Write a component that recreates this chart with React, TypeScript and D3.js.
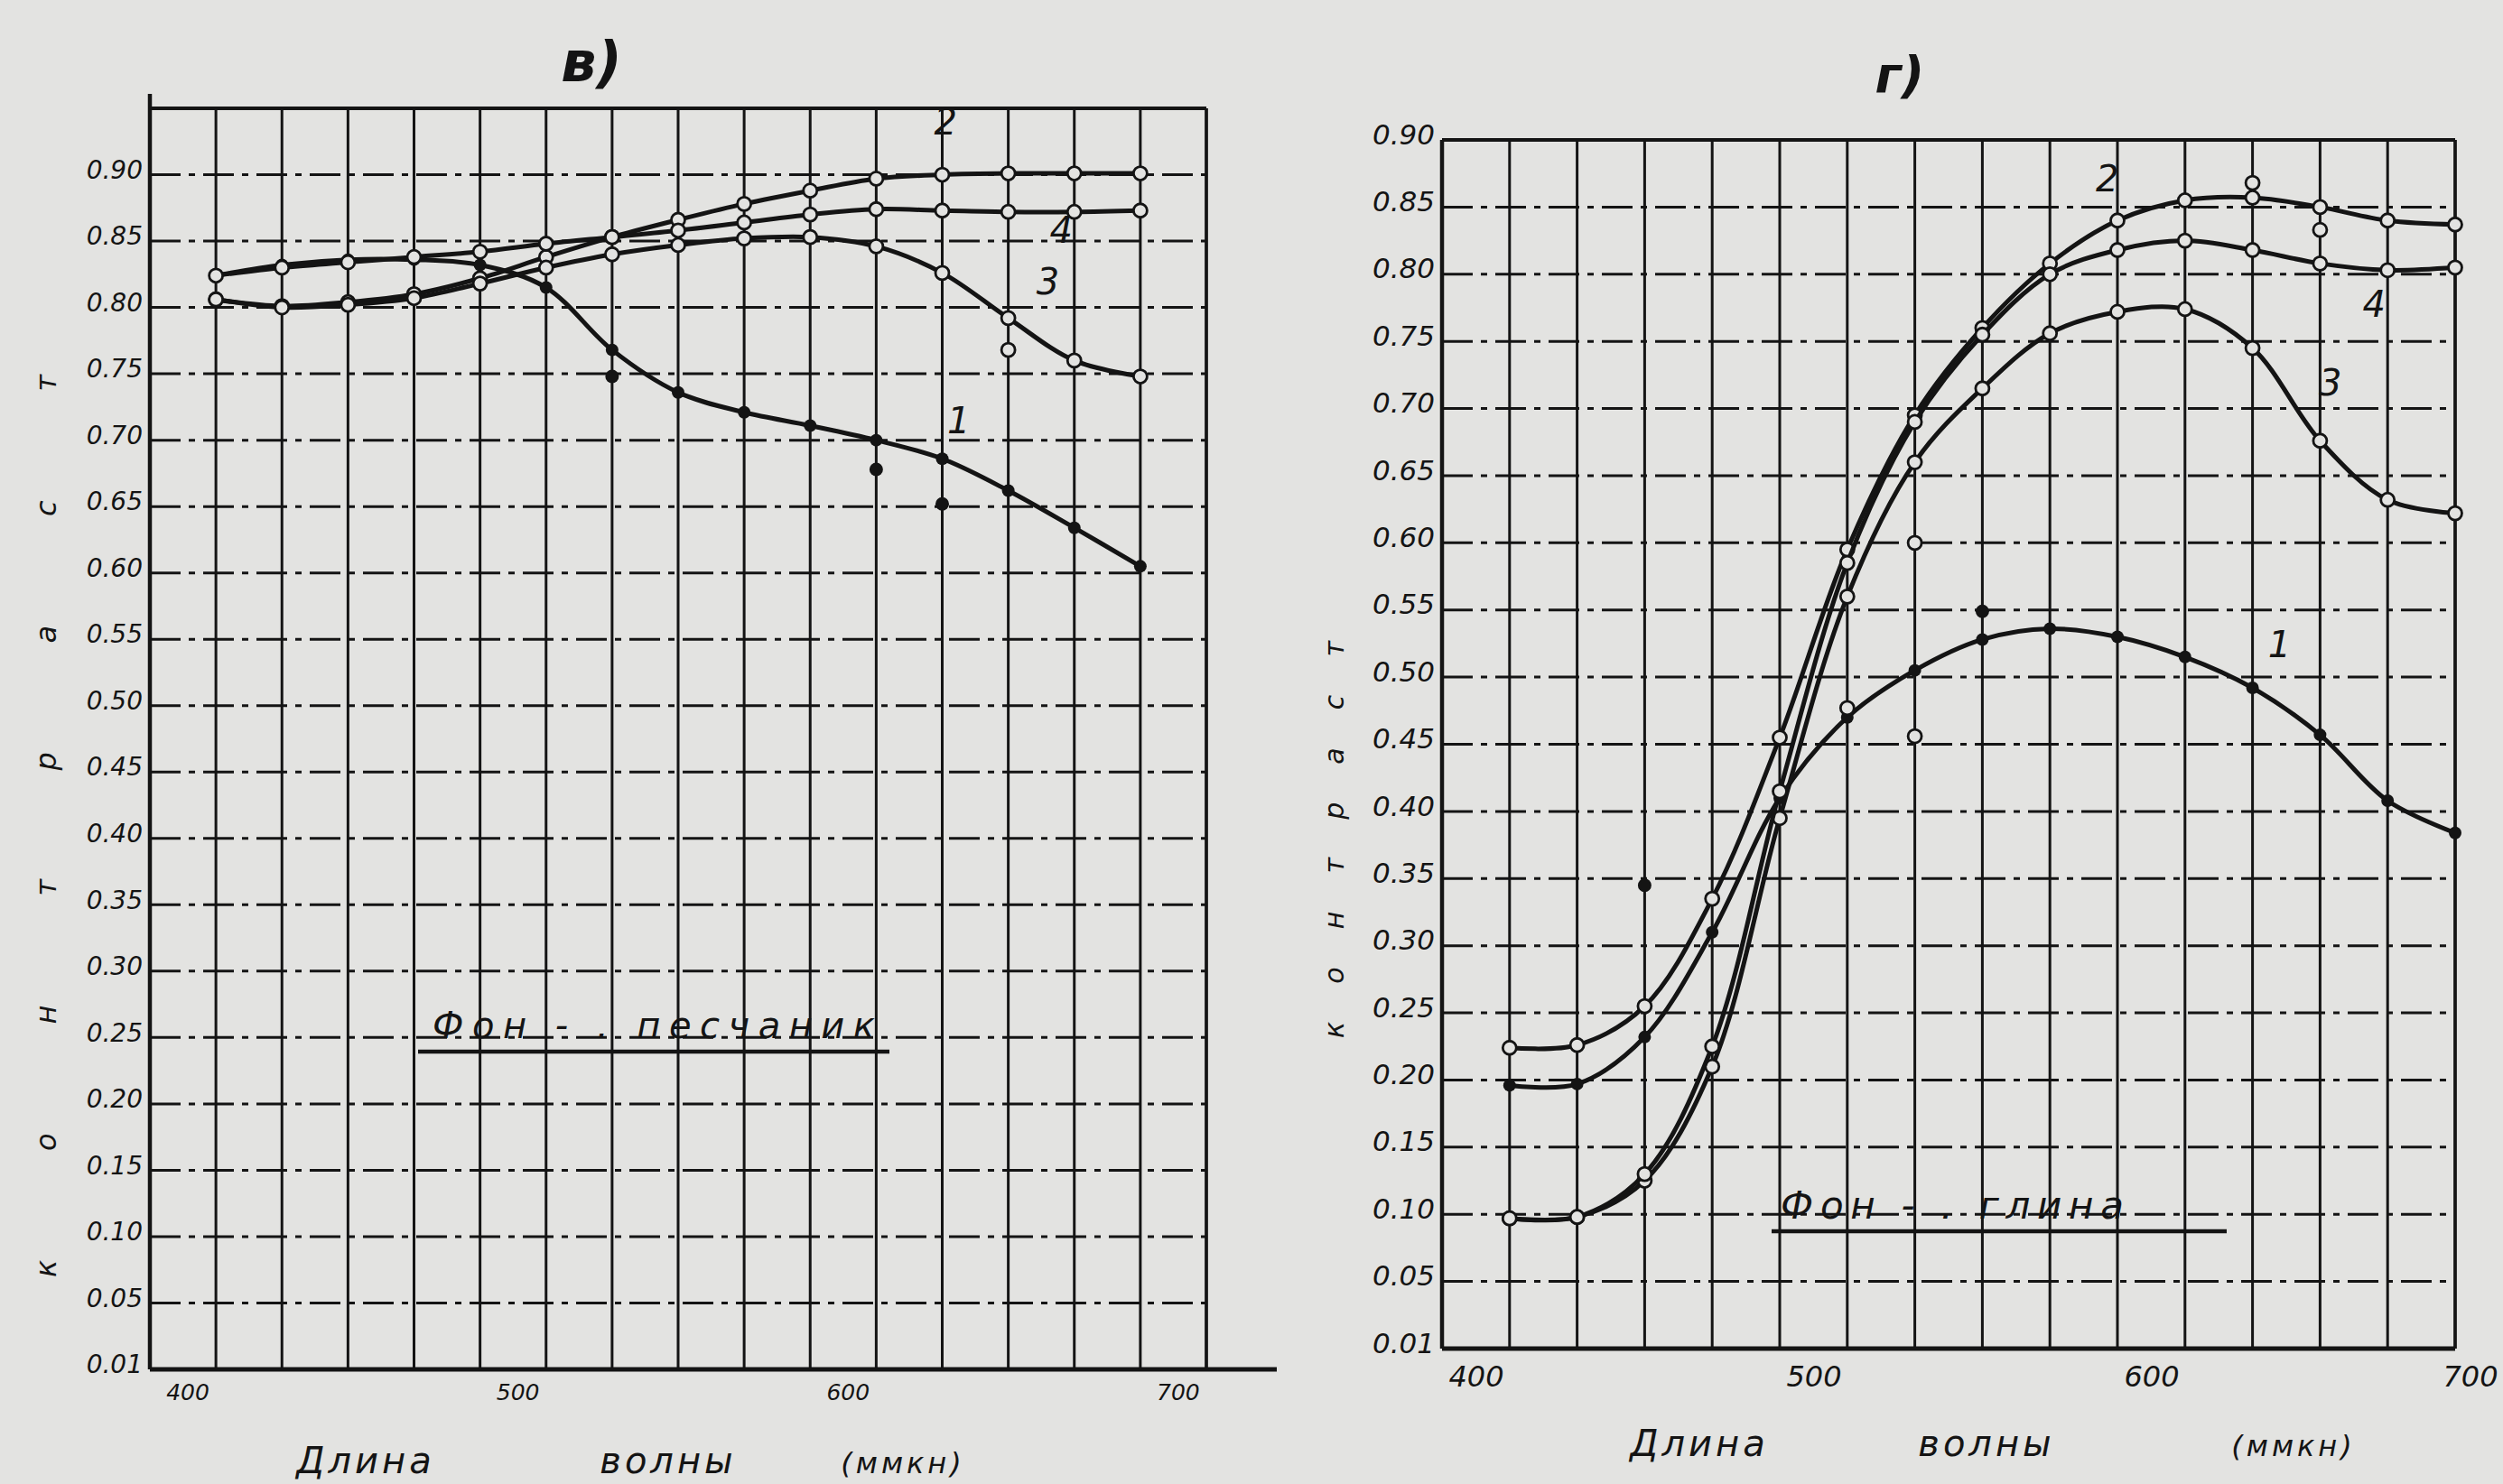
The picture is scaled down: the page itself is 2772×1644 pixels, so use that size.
import React from 'react';
import * as d3 from 'd3';

// ---------- DATA ----------
const WAVELENGTHS = [420, 440, 460, 480, 500, 520, 540, 560, 580, 600, 620, 640, 660, 680, 700];

// Panel "в)" — background: sandstone
const sandCurve1 = [0.824, 0.832, 0.836, 0.836, 0.832, 0.815, 0.768, 0.736, 0.721, 0.711, 0.700, 0.686, 0.662, 0.634, 0.605];
const sandCurve2 = [0.806, 0.801, 0.804, 0.810, 0.822, 0.838, 0.853, 0.866, 0.878, 0.888, 0.897, 0.900, 0.901, 0.901, 0.901];
const sandCurve3 = [0.806, 0.800, 0.802, 0.807, 0.818, 0.830, 0.840, 0.847, 0.852, 0.853, 0.846, 0.826, 0.792, 0.760, 0.748];
const sandCurve4 = [0.824, 0.830, 0.834, 0.838, 0.842, 0.848, 0.853, 0.858, 0.864, 0.870, 0.874, 0.873, 0.872, 0.872, 0.873];
const sandExtraFilled: [number, number][] = [[540, 0.748], [620, 0.678], [640, 0.652]];
const sandExtraHollow: [number, number][] = [[660, 0.768]];

// Panel "г)" — background: clay
const clayCurve1 = [0.196, 0.197, 0.232, 0.310, 0.410, 0.470, 0.505, 0.528, 0.536, 0.530, 0.515, 0.492, 0.457, 0.408, 0.384];
const clayCurve2 = [0.224, 0.226, 0.255, 0.335, 0.455, 0.595, 0.695, 0.760, 0.808, 0.840, 0.855, 0.857, 0.850, 0.840, 0.837];
const clayCurve3 = [0.097, 0.098, 0.125, 0.210, 0.395, 0.560, 0.660, 0.715, 0.756, 0.772, 0.774, 0.745, 0.676, 0.632, 0.622];
const clayCurve4 = [0.097, 0.098, 0.130, 0.225, 0.415, 0.585, 0.690, 0.755, 0.800, 0.818, 0.825, 0.818, 0.808, 0.803, 0.805];
const clayExtraFilled: [number, number][] = [[560, 0.549], [460, 0.345]];
const clayExtraHollow: [number, number][] = [[540, 0.600], [540, 0.456], [520, 0.477], [640, 0.868], [660, 0.833]];

const Y_TICKS_SAND = [0.90, 0.85, 0.80, 0.75, 0.70, 0.65, 0.60, 0.55, 0.50, 0.45, 0.40, 0.35, 0.30, 0.25, 0.20, 0.15, 0.10, 0.05, 0.0];
const Y_TICKS_CLAY = [0.90, 0.85, 0.80, 0.75, 0.70, 0.65, 0.60, 0.55, 0.50, 0.45, 0.40, 0.35, 0.30, 0.25, 0.20, 0.15, 0.10, 0.05, 0.0];
const X_TICKS = [400, 500, 600, 700];
const CURVE_NAMES = ['1', '2', '3', '4'];

const AXIS_WORDS = ['Длина', 'волны', '(ммкн)'];
const Y_TITLE = 'контраст';

// ---------- STYLE ----------
const INK = '#141414';
const PAPER = '#e3e3e1';
const FONT = '"DejaVu Sans", "Liberation Sans", sans-serif';
const W = 2772;
const H = 1644;

const yLabel = (v: number) => (v === 0 ? '0.01' : v.toFixed(2));

type PanelCfg = {
  title: string;
  titlePos: [number, number];
  titleSize: number;
  xDomain: [number, number];
  xRange: [number, number];
  yDomain: [number, number];
  yRange: [number, number];
  yTicks: number[];
  yTickSize: number;
  xTickSize: number;
  xTickDx: number;
  xTickDy: number;
  axisTop: number;
  axisRight: number;
  curves: number[][];
  filledCurve: number;
  curveLabels: [number, number][];
  extraFilled: [number, number][];
  extraHollow: [number, number][];
  legend: string;
  legendPos: [number, number];
  legendLine: [number, number, number];
  legendSize: number;
  legendLength: number;
  axisWordsPos: [number, number][];
  axisWordsY: number;
  axisWordSize: number;
  yTitleX: number;
  yTitleCenter: number;
  yTitleLength: number;
  yTitleSize: number;
};

function Panel({ c }: { c: PanelCfg }) {
  const xs = d3.scaleLinear().domain(c.xDomain).range(c.xRange);
  const ys = d3.scaleLinear().domain(c.yDomain).range(c.yRange);
  const line = d3
    .line<[number, number]>()
    .x((d) => xs(d[0]))
    .y((d) => ys(d[1]))
    .curve(d3.curveCatmullRom.alpha(0.5));

  const vGrid = d3.range(c.xDomain[0], c.xDomain[1] + 0.001, 20);
  const hGrid = d3.range(0.05, c.yDomain[1] - 0.001, 0.05);
  const [x0, x1] = c.xRange;
  const yb = ys(0);
  const yt = ys(c.yDomain[1]);

  return (
    <g>
      <text x={c.titlePos[0]} y={c.titlePos[1]} fontSize={c.titleSize} fontStyle="italic" fontWeight="bold" textAnchor="middle" fill={INK} fontFamily={FONT}>
        {c.title}
      </text>
      {/* vertical grid */}
      {vGrid.map((v) => (
        <line key={'v' + v} x1={xs(v)} x2={xs(v)} y1={yt} y2={yb} stroke={INK} strokeWidth={3} />
      ))}
      {/* horizontal grid */}
      {hGrid.map((v) => (
        <line key={'h' + v.toFixed(2)} x1={x0} x2={x1} y1={ys(v)} y2={ys(v)} stroke={INK} strokeWidth={3} strokeDasharray="34 9 7 9" />
      ))}
      {/* frame */}
      <line x1={x0} x2={x1} y1={yt} y2={yt} stroke={INK} strokeWidth={4} />
      <line x1={x1} x2={x1} y1={yt} y2={yb} stroke={INK} strokeWidth={3.5} />
      <line x1={x0} x2={x0} y1={c.axisTop} y2={yb} stroke={INK} strokeWidth={4.5} />
      <line x1={x0} x2={c.axisRight} y1={yb} y2={yb} stroke={INK} strokeWidth={5} />
      {/* y tick labels */}
      {c.yTicks.map((v) => (
        <text key={'yl' + v} x={x0 - 8} y={ys(v)} dy="0.15em" fontSize={c.yTickSize} fontStyle="italic" textAnchor="end" fill={INK} fontFamily={FONT}>
          {yLabel(v)}
        </text>
      ))}
      {/* x tick labels */}
      {X_TICKS.map((v) => (
        <text key={'xl' + v} x={Math.min(xs(v) + c.xTickDx, W - 36)} y={yb + c.xTickDy} fontSize={c.xTickSize} fontStyle="italic" textAnchor="middle" fill={INK} fontFamily={FONT}>
          {v}
        </text>
      ))}
      {/* curves */}
      {c.curves.map((vals, i) => {
        const pts = WAVELENGTHS.map((w, j) => [w, vals[j]] as [number, number]);
        return (
          <g key={'c' + i}>
            <path d={line(pts) || ''} fill="none" stroke={INK} strokeWidth={5} strokeLinecap="round" />
            {pts.map((p, j) =>
              i === c.filledCurve ? (
                <circle key={j} cx={xs(p[0])} cy={ys(p[1])} r={7} fill={INK} />
              ) : (
                <circle key={j} cx={xs(p[0])} cy={ys(p[1])} r={7.5} fill={PAPER} stroke={INK} strokeWidth={2.8} />
              )
            )}
          </g>
        );
      })}
      {c.extraFilled.map((p, j) => (
        <circle key={'ef' + j} cx={xs(p[0])} cy={ys(p[1])} r={7.5} fill={INK} />
      ))}
      {c.extraHollow.map((p, j) => (
        <circle key={'eh' + j} cx={xs(p[0])} cy={ys(p[1])} r={7.5} fill={PAPER} stroke={INK} strokeWidth={2.8} />
      ))}
      {/* curve number labels */}
      {c.curveLabels.map((p, i) => (
        <text key={'cl' + i} x={xs(p[0])} y={ys(p[1])} fontSize={40} fontStyle="italic" textAnchor="middle" fill={INK} fontFamily={FONT}>
          {CURVE_NAMES[i]}
        </text>
      ))}
      {/* legend */}
      <text
        x={c.legendPos[0]}
        y={c.legendPos[1]}
        fontSize={c.legendSize}
        fontStyle="italic"
        textAnchor="middle"
        fill={INK}
        fontFamily={FONT}
        textLength={c.legendLength}
        lengthAdjust="spacing"
      >
        {c.legend}
      </text>
      <line x1={c.legendLine[0]} x2={c.legendLine[1]} y1={c.legendLine[2]} y2={c.legendLine[2]} stroke={INK} strokeWidth={4.5} />
      {/* x axis title */}
      {AXIS_WORDS.map((w, i) => (
        <text key={'aw' + i} x={c.axisWordsPos[i][0]} y={c.axisWordsY} fontSize={i === 2 ? c.axisWordSize * 0.8 : c.axisWordSize} fontStyle="italic" textAnchor="middle" fill={INK} fontFamily={FONT} letterSpacing={4}>
          {w}
        </text>
      ))}
      {/* y axis title (vertical) */}
      <text
        transform={`translate(${c.yTitleX},${c.yTitleCenter}) rotate(-90)`}
        fontSize={c.yTitleSize}
        fontStyle="italic"
        textAnchor="middle"
        fill={INK}
        fontFamily={FONT}
        textLength={c.yTitleLength}
        lengthAdjust="spacing"
      >
        {Y_TITLE}
      </text>
    </g>
  );
}

const sandCfg: PanelCfg = {
  title: 'в)',
  titlePos: [655, 90],
  titleSize: 62,
  xDomain: [400, 720],
  xRange: [166, 1336],
  yDomain: [0, 0.95],
  yRange: [1517, 120],
  yTicks: Y_TICKS_SAND,
  yTickSize: 28,
  xTickSize: 25,
  xTickDx: 42,
  xTickDy: 34,
  axisTop: 104,
  axisRight: 1414,
  curves: [sandCurve1, sandCurve2, sandCurve3, sandCurve4],
  filledCurve: 0,
  curveLabels: [[645, 0.705], [641, 0.93], [672, 0.81], [676, 0.849]],
  extraFilled: sandExtraFilled,
  extraHollow: sandExtraHollow,
  legend: 'Фон - . песчаник',
  legendPos: [724, 1150],
  legendLine: [463, 985, 1165],
  legendSize: 40,
  legendLength: 490,
  axisWordsPos: [[405, 0], [740, 0], [1000, 0]],
  axisWordsY: 1632,
  axisWordSize: 40,
  yTitleX: 62,
  yTitleCenter: 915,
  yTitleLength: 1000,
  yTitleSize: 32,
};

const clayCfg: PanelCfg = {
  title: 'г)',
  titlePos: [2104, 102],
  titleSize: 56,
  xDomain: [400, 700],
  xRange: [1597, 2719],
  yDomain: [0, 0.9],
  yRange: [1494, 155],
  yTicks: Y_TICKS_CLAY,
  yTickSize: 31,
  xTickSize: 32,
  xTickDx: 38,
  xTickDy: 42,
  axisTop: 155,
  axisRight: 2719,
  curves: [clayCurve1, clayCurve2, clayCurve3, clayCurve4],
  filledCurve: 0,
  curveLabels: [[648, 0.515], [597, 0.862], [663, 0.71], [676, 0.768]],
  extraFilled: clayExtraFilled,
  extraHollow: clayExtraHollow,
  legend: 'Фон - . глина',
  legendPos: [2162, 1350],
  legendLine: [1962, 2466, 1364],
  legendSize: 42,
  legendLength: 380,
  axisWordsPos: [[1882, 0], [2200, 0], [2540, 0]],
  axisWordsY: 1613,
  axisWordSize: 40,
  yTitleX: 1488,
  yTitleCenter: 930,
  yTitleLength: 440,
  yTitleSize: 30,
};

export default function App() {
  return (
    <svg
      width={W}
      height={H}
      viewBox={`0 0 ${W} ${H}`}
      style={{ position: 'absolute', left: 0, top: 0, background: PAPER }}
    >
      <rect x={0} y={0} width={W} height={H} fill={PAPER} />
      <Panel c={sandCfg} />
      <Panel c={clayCfg} />
    </svg>
  );
}
